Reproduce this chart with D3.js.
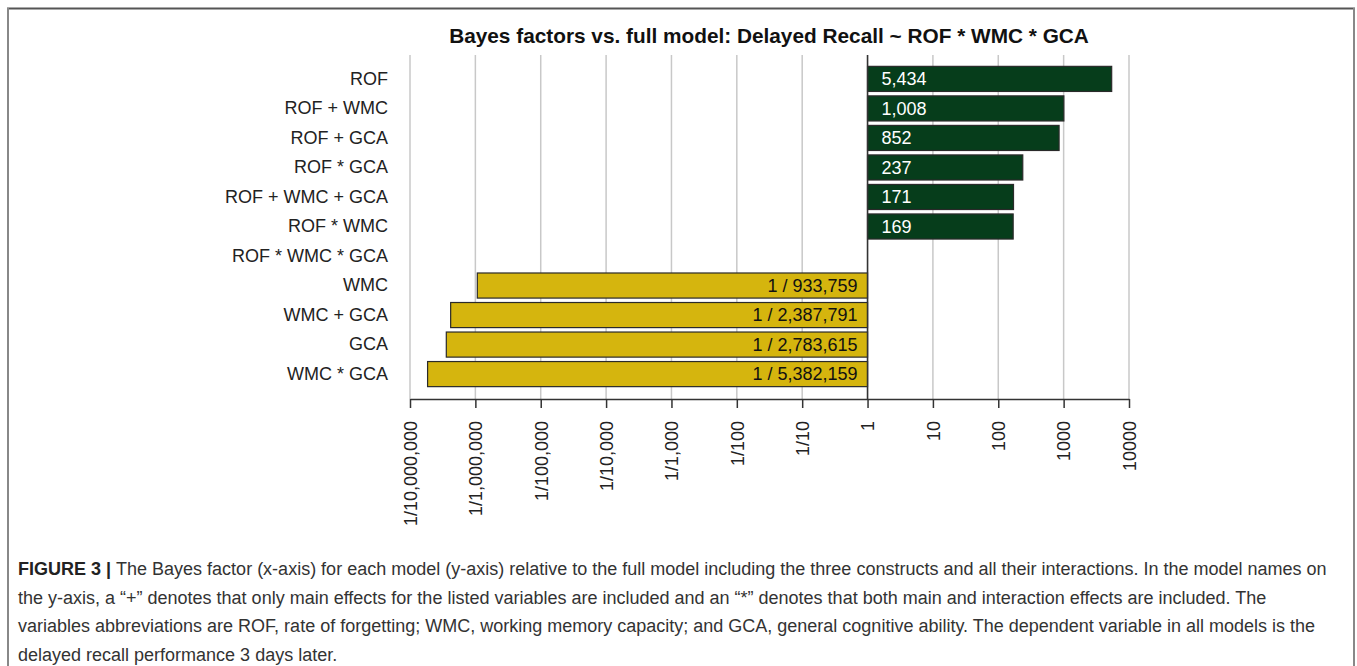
<!DOCTYPE html>
<html>
<head>
<meta charset="utf-8">
<script src="https://cdn.jsdelivr.net/npm/d3@7"></script>
<style>
	body { margin: 0; background: #fff; }
	svg { display: block; font-family: "Liberation Sans", Arial, sans-serif; }
</style>
</head>
<body>
<div id="chart"></div>
<script>
// models on the y-axis, top to bottom
var models = ["ROF", "ROF + WMC", "ROF + GCA", "ROF * GCA", "ROF + WMC + GCA", "ROF * WMC",
	"ROF * WMC * GCA", "WMC", "WMC + GCA", "GCA", "WMC * GCA"];

// Bayes factor vs. the full model
var bayesFactors = [5434, 1008, 852, 237, 171, 169, 1,
	1 / 933759, 1 / 2387791, 1 / 2783615, 1 / 5382159];

var tickValues = [1e-7, 1e-6, 1e-5, 1e-4, 1e-3, 1e-2, 1e-1, 1, 10, 100, 1000, 10000];
var tickLabels = ["1/10,000,000", "1/1,000,000", "1/100,000", "1/10,000", "1/1,000", "1/100",
	"1/10", "1", "10", "100", "1000", "10000"];

var title = "Bayes factors vs. full model: Delayed Recall ~ ROF * WMC * GCA";
var captionLines = [
	"The Bayes factor (x-axis) for each model (y-axis) relative to the full model including the three constructs and all their interactions. In the model names on",
	"the y-axis, a \u201c+\u201d denotes that only main effects for the listed variables are included and an \u201c*\u201d denotes that both main and interaction effects are included. The",
	"variables abbreviations are ROF, rate of forgetting; WMC, working memory capacity; and GCA, general cognitive ability. The dependent variable in all models is the",
	"delayed recall performance 3 days later."
];

var width = 1357, height = 666;
var plotTop = 55, axisY = 399;
var labelSize = "18px";

var svg = d3.select("#chart")
	.append("svg")
	.attr("width", width)
	.attr("height", height);

// frame round the figure
svg.append("line")
	.attr("x1", 7).attr("x2", 1355).attr("y1", 8.5).attr("y2", 8.5)
	.attr("stroke", "#555").attr("stroke-width", 2);
svg.append("line")
	.attr("x1", 8).attr("x2", 8).attr("y1", 8).attr("y2", height)
	.attr("stroke", "#888").attr("stroke-width", 2);
svg.append("line")
	.attr("x1", 1354).attr("x2", 1354).attr("y1", 8).attr("y2", height)
	.attr("stroke", "#888").attr("stroke-width", 2);

var x = d3.scaleLog()
	.domain([1e-7, 1e4])
	.range([410, 1129]);

var y = d3.scaleBand()
	.domain(models)
	.range([64, 389])
	.paddingInner(0.15)
	.paddingOuter(0.08);

var fmt = d3.format(",");

// grid
svg.append("g")
	.selectAll("line")
	.data(tickValues)
	.enter().append("line")
	.attr("x1", function(d) { return x(d); })
	.attr("x2", function(d) { return x(d); })
	.attr("y1", plotTop)
	.attr("y2", axisY)
	.attr("stroke", "#c8c8c8")
	.attr("stroke-width", 1.5);

var barModels = models.filter(function(m, i) { return bayesFactors[i] !== 1; });
function bf(m) { return bayesFactors[models.indexOf(m)]; }

// bars
svg.append("g")
	.selectAll("rect")
	.data(barModels)
	.enter().append("rect")
	.attr("x", function(m) { return x(Math.min(bf(m), 1)); })
	.attr("width", function(m) { return Math.abs(x(bf(m)) - x(1)); })
	.attr("y", function(m) { return y(m); })
	.attr("height", y.bandwidth())
	.attr("fill", function(m) { return bf(m) > 1 ? "#063d1b" : "#d5b50e"; })
	.attr("stroke", "#2a2a2a")
	.attr("stroke-width", 1.2);

// line at BF = 1
svg.append("line")
	.attr("x1", x(1)).attr("x2", x(1))
	.attr("y1", plotTop).attr("y2", axisY)
	.attr("stroke", "#333")
	.attr("stroke-width", 1.5);

// bar value labels
svg.append("g")
	.selectAll("text")
	.data(barModels)
	.enter().append("text")
	.attr("x", function(m) { return bf(m) > 1 ? x(1) + 14 : x(1) - 10; })
	.attr("y", function(m) { return y(m) + y.bandwidth() / 2; })
	.attr("dy", "0.35em")
	.attr("text-anchor", function(m) { return bf(m) > 1 ? "start" : "end"; })
	.attr("fill", function(m) { return bf(m) > 1 ? "#fff" : "#111"; })
	.style("font-size", labelSize)
	.text(function(m) {
		var v = bf(m);
		return v > 1 ? fmt(v) : "1 / " + fmt(Math.round(1 / v));
	});

// y labels
svg.append("g")
	.attr("transform", "translate(388,0)")
	.call(d3.axisLeft(y).tickSize(0).tickPadding(0))
	.call(function(g) { g.select(".domain").remove(); })
	.selectAll("text")
	.attr("fill", "#222")
	.style("font-size", labelSize)
	.style("font-family", "'Liberation Sans', Arial, sans-serif");

// x axis
var xAxis = svg.append("g")
	.attr("transform", "translate(0," + axisY + ")")
	.call(d3.axisBottom(x)
		.tickValues(tickValues)
		.tickFormat(function(d, i) { return tickLabels[i]; })
		.tickSize(9)
		.tickSizeOuter(0));

xAxis.select(".domain").attr("stroke", "#333").attr("stroke-width", 1.5);
xAxis.selectAll(".tick line").attr("stroke", "#333").attr("stroke-width", 1.5);
xAxis.selectAll(".tick text")
	.attr("transform", "rotate(-90)")
	.attr("x", -22)
	.attr("y", 0)
	.attr("dy", "0.35em")
	.attr("fill", "#222")
	.style("text-anchor", "end")
	.style("font-size", labelSize)
	.style("font-family", "'Liberation Sans', Arial, sans-serif");

// title
svg.append("text")
	.attr("x", 769)
	.attr("y", 43)
	.attr("text-anchor", "middle")
	.style("font-size", "20.8px")
	.style("font-weight", "bold")
	.attr("fill", "#111")
	.text(title);

// caption
var caption = svg.append("g")
	.style("font-size", "18px")
	.attr("fill", "#333");

caption.selectAll("text")
	.data(captionLines)
	.enter().append("text")
	.attr("x", 18)
	.attr("y", function(d, i) { return 575 + i * 28.5; })
	.each(function(d, i) {
		var t = d3.select(this);
		if (i === 0) {
			t.append("tspan").style("font-weight", "bold").attr("fill", "#222").text("FIGURE 3 | ");
		}
		t.append("tspan").text(d);
	});
</script>
</body>
</html>
